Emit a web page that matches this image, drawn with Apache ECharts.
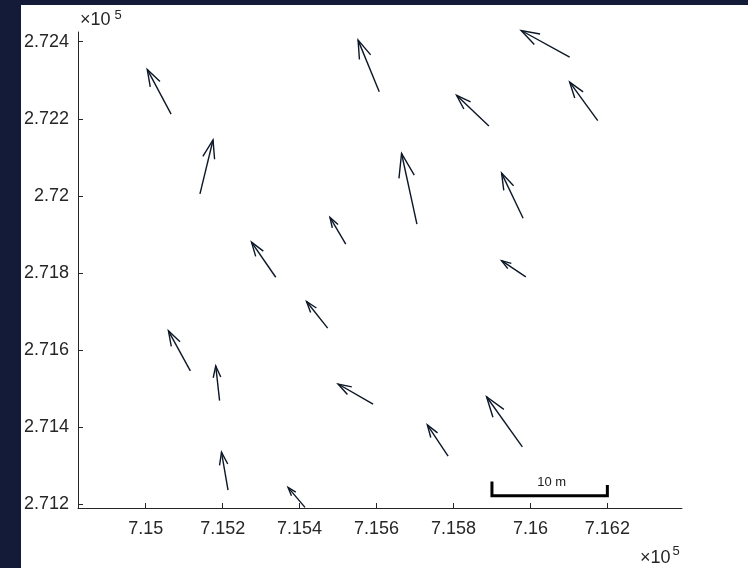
<!DOCTYPE html>
<html>
<head>
<meta charset="utf-8">
<script src="https://cdn.jsdelivr.net/npm/echarts@6/dist/echarts.min.js"></script>
<style>html,body{margin:0;padding:0;background:#131b38;}#c{width:748px;height:568px;}</style>
</head>
<body>
<div id="c"></div>
<script>
// Arrow tails (data units) and components
var arrowX = [715066, 715141, 715607, 716102, 715892, 716175, 715705, 715981, 715520, 715338, 715988, 715473, 715116, 715192, 715591, 715979, 715786, 715214, 715414];
var arrowY = [272212, 272005, 272270, 272360, 272181, 272195, 271927, 271942, 271875, 271789, 271790, 271657, 271546, 271469, 271460, 271349, 271325, 271237, 271192];
var arrowU = [-62, 34, -55, -126, -84, -73, -40, -56, -41, -63, -63, -55, -57, -10, -91, -93, -54, -17, -44];
var arrowV = [116, 140, 134, 69, 80, 100, 183, 117, 69, 91, 42, 69, 104, 90, 52, 130, 81, 98, 52];

var xTicks = [715000, 715200, 715400, 715600, 715800, 716000, 716200];
var xTickLabels = ['7.15', '7.152', '7.154', '7.156', '7.158', '7.16', '7.162'];
var yTicks = [271200, 271400, 271600, 271800, 272000, 272200, 272400];
var yTickLabels = ['2.712', '2.714', '2.716', '2.718', '2.72', '2.722', '2.724'];

var xRange = [714824, 716394];
var yRange = [271190.4, 272425.1];

var scaleBarX = [715900, 716200];
var scaleBarY = 271222;
var scaleBarTickTop = [271259, 271250];
var scaleBarText = '10 m';

var arrowData = arrowX.map(function (x, i) { return [x, arrowY[i], arrowU[i], arrowV[i]]; });

var axisColor = '#262626';
var chart = echarts.init(document.getElementById('c'));
var alpha = 0.33, beta = 0.33;

chart.setOption({
  backgroundColor: '#131b38',
  animation: false,
  graphic: [
    { type: 'rect', z: -10, shape: { x: 21, y: 5, width: 727, height: 563 }, style: { fill: '#ffffff' } },
    { type: 'text', style: { x: 80, y: 20.5, text: '×10', font: '18px Arial, "Liberation Sans", sans-serif', fill: axisColor, textVerticalAlign: 'middle' } },
    { type: 'text', style: { x: 114.5, y: 15, text: '5', font: '13px Arial, "Liberation Sans", sans-serif', fill: axisColor, textVerticalAlign: 'middle' } },
    { type: 'text', style: { x: 640, y: 558.5, text: '×10', font: '18px Arial, "Liberation Sans", sans-serif', fill: axisColor, textVerticalAlign: 'middle' } },
    { type: 'text', style: { x: 672.5, y: 551.5, text: '5', font: '13px Arial, "Liberation Sans", sans-serif', fill: axisColor, textVerticalAlign: 'middle' } }
  ],
  grid: { left: 78, top: 32, width: 604, height: 476, containLabel: false },
  xAxis: {
    type: 'value', min: xRange[0], max: xRange[1],
    axisLine: { show: true, lineStyle: { color: axisColor, width: 1 } },
    axisTick: { show: true, inside: true, length: 5, lineStyle: { color: axisColor }, customValues: xTicks },
    axisLabel: {
      customValues: xTicks, margin: 12, color: axisColor, fontSize: 18,
      fontFamily: 'Arial, "Liberation Sans", sans-serif',
      formatter: function (v) { var i = xTicks.indexOf(v); return i >= 0 ? xTickLabels[i] : ''; }
    },
    splitLine: { show: false }
  },
  yAxis: {
    type: 'value', min: yRange[0], max: yRange[1],
    axisLine: { show: true, lineStyle: { color: axisColor, width: 1 } },
    axisTick: { show: true, inside: true, length: 5, lineStyle: { color: axisColor }, customValues: yTicks },
    axisLabel: {
      customValues: yTicks, margin: 9, color: axisColor, fontSize: 18,
      fontFamily: 'Arial, "Liberation Sans", sans-serif',
      formatter: function (v) { var i = yTicks.indexOf(v); return i >= 0 ? yTickLabels[i] : ''; }
    },
    splitLine: { show: false }
  },
  series: [
    {
      type: 'custom',
      clip: false,
      data: arrowData,
      renderItem: function (params, api) {
        var x = api.value(0), y = api.value(1), u = api.value(2), v = api.value(3);
        var p0 = api.coord([x, y]);
        var p1 = api.coord([x + u, y + v]);
        var b1 = api.coord([x + u - alpha * (u + beta * v), y + v - alpha * (v - beta * u)]);
        var b2 = api.coord([x + u - alpha * (u - beta * v), y + v - alpha * (v + beta * u)]);
        var st = { stroke: '#0b1626', lineWidth: 1.4, fill: null };
        return {
          type: 'group',
          children: [
            { type: 'polyline', shape: { points: [p0, p1] }, style: st },
            { type: 'polyline', shape: { points: [b1, p1, b2] }, style: st }
          ]
        };
      }
    },
    {
      type: 'custom',
      clip: false,
      data: [[scaleBarX[0], scaleBarX[1], scaleBarY]],
      renderItem: function (params, api) {
        var a = api.coord([api.value(0), api.value(2)]);
        var b = api.coord([api.value(1), api.value(2)]);
        var ta = api.coord([api.value(0), scaleBarTickTop[0]]);
        var tb = api.coord([api.value(1), scaleBarTickTop[1]]);
        return {
          type: 'group',
          children: [
            { type: 'polyline', shape: { points: [ta, a, b, tb] }, style: { stroke: '#000', lineWidth: 3, fill: null } },
            { type: 'text', style: { x: (a[0] + b[0]) / 2 + 2, y: a[1] - 13, text: scaleBarText, font: '13px Arial, "Liberation Sans", sans-serif', fill: '#1a1a1a', textAlign: 'center', textVerticalAlign: 'middle' } }
          ]
        };
      }
    }
  ]
});
</script>
</body>
</html>
